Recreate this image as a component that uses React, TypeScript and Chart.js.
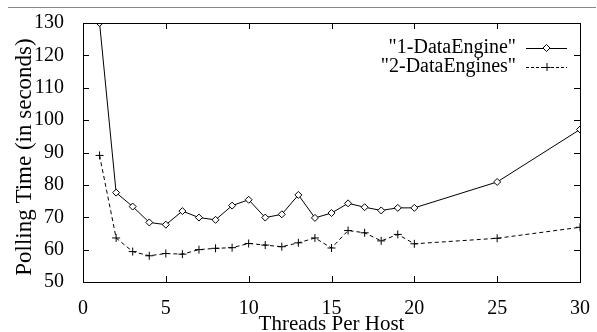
import React, { useEffect, useRef } from "react";
import { Chart, registerables } from "chart.js";

Chart.register(...registerables);

const threads1 = [1, 2, 3, 4, 5, 6, 7, 8, 9, 10, 11, 12, 13, 14, 15, 16, 17, 18, 19, 20, 25, 30];
const oneEngine = [130, 77.6, 73.3, 68.4, 67.7, 71.9, 69.9, 69.2, 73.6, 75.4, 69.9, 70.9, 76.9, 69.8, 71.3, 74.3, 73.1, 72.1, 72.9, 72.9, 80.9, 97.1];
const twoEngines = [89.1, 63.6, 59.4, 58.1, 58.8, 58.6, 60.0, 60.4, 60.6, 61.9, 61.4, 60.9, 62.1, 63.6, 60.5, 65.9, 65.2, 62.7, 64.7, 61.8, 63.5, 66.9];
const seriesLabels = ['"1-DataEngine"', '"2-DataEngines"'];
const xTitle = "Threads Per Host";
const yTitle = "Polling Time (in seconds)";

const FONT = "'Liberation Serif', 'Times New Roman', serif";

const framePlugin = {
  id: "gnuFrame",
  afterDraw(chart: any) {
    const { ctx, chartArea, scales } = chart;
    const { left, right, top, bottom } = chartArea;
    ctx.save();
    ctx.strokeStyle = "#000";
    ctx.lineWidth = 1;
    ctx.setLineDash([]);
    ctx.strokeRect(left + 0.5, top + 0.5, right - left, bottom - top);
    const tl = 6;
    ctx.beginPath();
    scales.x.ticks.forEach((t: any) => {
      const x = Math.round(scales.x.getPixelForValue(t.value)) + 0.5;
      ctx.moveTo(x, bottom);
      ctx.lineTo(x, bottom - tl);
      ctx.moveTo(x, top);
      ctx.lineTo(x, top + tl);
    });
    scales.y.ticks.forEach((t: any) => {
      const y = Math.round(scales.y.getPixelForValue(t.value)) + 0.5;
      ctx.moveTo(left, y);
      ctx.lineTo(left + tl, y);
      ctx.moveTo(right, y);
      ctx.lineTo(right - tl, y);
    });
    ctx.stroke();

    ctx.fillStyle = "#000";
    // axis titles
    ctx.font = `21px ${FONT}`;
    ctx.textAlign = "center";
    ctx.textBaseline = "alphabetic";
    ctx.fillText(xTitle, (left + right) / 2, 330);
    ctx.save();
    ctx.font = `23px ${FONT}`;
    ctx.translate(31, 157);
    ctx.rotate(-Math.PI / 2);
    ctx.fillText(yTitle, 0, 0);
    ctx.restore();

    // legend
    ctx.font = `20px ${FONT}`;
    ctx.textAlign = "right";
    ctx.textBaseline = "middle";
    const textRight = 516;
    const sx0 = 526;
    const sx1 = 567;
    const rows = [48, 67];
    chart.data.datasets.forEach((ds: any, i: number) => {
      const y = rows[i];
      ctx.fillText(seriesLabels[i], textRight, y);
      ctx.beginPath();
      ctx.setLineDash(ds.borderDash ? [3, 2] : []);
      ctx.moveTo(sx0, y + 0.5);
      ctx.lineTo(sx1, y + 0.5);
      ctx.stroke();
      ctx.setLineDash([]);
      const mx = (sx0 + sx1) / 2;
      const r = ds.pointRadius;
      ctx.beginPath();
      if (ds.pointStyle === "rectRot") {
        ctx.moveTo(mx, y - r);
        ctx.lineTo(mx + r, y);
        ctx.lineTo(mx, y + r);
        ctx.lineTo(mx - r, y);
        ctx.closePath();
        ctx.fillStyle = "#fff";
        ctx.fill();
        ctx.stroke();
        ctx.fillStyle = "#000";
      } else {
        ctx.moveTo(mx - r, y + 0.5);
        ctx.lineTo(mx + r, y + 0.5);
        ctx.moveTo(mx + 0.5, y - r);
        ctx.lineTo(mx + 0.5, y + r);
        ctx.stroke();
      }
    });
    ctx.restore();
  },
};

export default function App() {
  const ref = useRef<HTMLCanvasElement>(null);
  useEffect(() => {
    document.body.style.margin = "0";
    const chart = new Chart(ref.current!, {
      type: "line",
      data: {
        datasets: [
          {
            label: seriesLabels[0],
            data: threads1.map((x, i) => ({ x, y: oneEngine[i] })),
            borderColor: "#000",
            borderWidth: 1,
            pointStyle: "rectRot",
            pointRadius: 3.5,
            pointBackgroundColor: "#fff",
            pointBorderColor: "#000",
            pointBorderWidth: 1,
            tension: 0,
          },
          {
            label: seriesLabels[1],
            data: threads1.map((x, i) => ({ x, y: twoEngines[i] })),
            borderColor: "#000",
            borderWidth: 1,
            borderDash: [4, 3],
            pointStyle: "cross",
            pointRadius: 4,
            pointBorderColor: "#000",
            pointBorderWidth: 1,
            tension: 0,
          },
        ],
      },
      options: {
        responsive: false,
        animation: false,
        devicePixelRatio: 1,
        layout: { padding: { top: 20, right: 11, left: 0, bottom: 0 } },
        plugins: { legend: { display: false }, tooltip: { enabled: false } },
        scales: {
          x: {
            type: "linear",
            min: 0,
            max: 30,
            ticks: { stepSize: 5, color: "#000", font: { family: FONT, size: 20 }, padding: 7 },
            grid: { display: false },
            border: { display: false },
            afterFit: (s: any) => { s.height = 50; },
          },
          y: {
            min: 50,
            max: 130,
            ticks: { stepSize: 10, color: "#000", font: { family: FONT, size: 20 }, padding: 11 },
            grid: { display: false },
            border: { display: false },
            afterFit: (s: any) => { s.width = 83; },
          },
        },
      },
      plugins: [framePlugin],
    });
    return () => chart.destroy();
  }, []);
  return (
    <div style={{ position: "relative", width: 597, height: 332 }}>
      <div style={{ position: "absolute", left: 8, top: 7, width: 588, height: 0, borderTop: "1px solid #888" }} />
      <canvas ref={ref} width={597} height={332} style={{ display: "block" }} />
    </div>
  );
}
